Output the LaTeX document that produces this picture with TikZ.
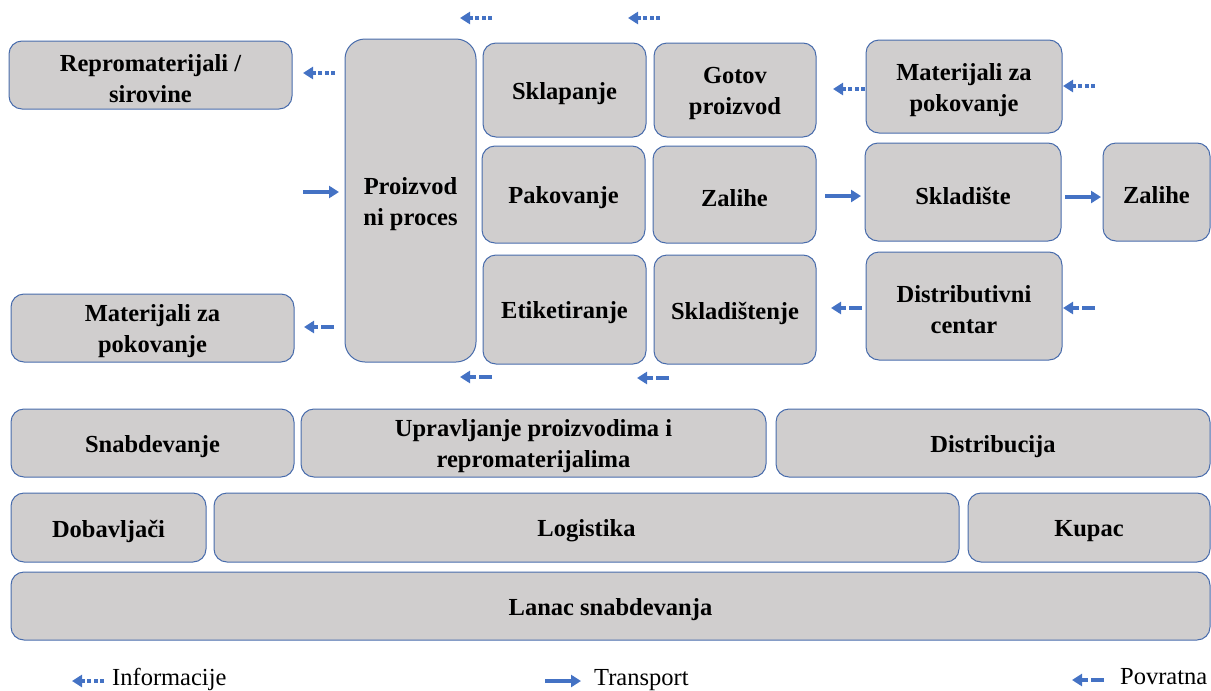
\documentclass[tikz,border=0pt]{standalone}
\usepackage{fontspec}
\setmainfont{Liberation Serif}
\usetikzlibrary{arrows.meta}
\definecolor{boxfill}{RGB}{208,206,206}
\definecolor{boxline}{RGB}{72,108,172}
\definecolor{arrblue}{RGB}{68,114,196}
\tikzset{
  box/.style={draw=boxline, line width=1pt, fill=boxfill, rounded corners=13pt,
    inner sep=0pt},
  boxtext/.style={align=center, inner sep=0pt,
    font=\fontsize{24.5}{31}\selectfont\bfseries},
  arrbase/.style={draw=arrblue, line width=3.6pt,
    -{Triangle[length=10pt,width=12pt]}},
  infoarr/.style={arrbase, dash pattern=on 4pt off 2.5pt},
  transarr/.style={arrbase},
  retarr/.style={arrbase, dash pattern=on 13pt off 3.5pt on 20pt off 3pt},
  legtext/.style={anchor=base west, inner sep=0pt, font=\fontsize{24.5}{29}\selectfont}
}
\newcommand{\bx}[7]{% name, cx, cy, w, h, text, extra
  \node[box, minimum width=#4pt, minimum height=#5pt, #7] (#1) at (#2,#3) {};
  \node[boxtext] (#1-t) at ([yshift=-3.5pt]#1.center) {#6};}
\begin{document}
\begin{tikzpicture}[x=1pt,y=-1pt]
\useasboundingbox (0,0) rectangle (1211,691);
% boxes
\bx{repro}{150.5}{75}{283}{68}{Repromaterijali /\\sirovine}{}
\bx{matl}{152.5}{328}{283}{68}{Materijali za\\pokovanje}{}
\bx{proc}{410.5}{200.5}{131}{323}{Proizvod\\ni proces}{rounded corners=20pt}
\bx{sklap}{564.5}{90}{163}{94}{Sklapanje}{}
\bx{gotov}{735}{90}{162}{94}{Gotov\\proizvod}{}
\bx{pakov}{563.5}{194.5}{163}{97}{Pakovanje}{}
\bx{zalm}{734.5}{194.5}{163}{97}{Zalihe}{}
\bx{etik}{564.5}{309.5}{163}{109}{Etiketiranje}{}
\bx{sklst}{735}{309.5}{162}{109}{Skladištenje}{}
\bx{matr}{964}{86.5}{196}{93}{Materijali za\\pokovanje}{}
\bx{sklad}{963}{192}{196}{98}{Skladište}{}
\bx{zalr}{1156.5}{192}{107}{98}{Zalihe}{}
\bx{dist}{964}{306}{196}{108}{Distributivni\\centar}{}
\bx{snab}{152.5}{443}{283}{68}{Snabdevanje}{}
\bx{uprav}{533.5}{443}{465}{68}{Upravljanje proizvodima i\\repromaterijalima}{}
\bx{distrib}{993}{443}{434}{68}{Distribucija}{}
\bx{dobav}{108.5}{527.5}{195}{69}{Dobavljači}{}
\bx{logist}{586.5}{527.5}{745}{69}{Logistika}{}
\bx{kupac}{1089}{527.5}{242}{69}{Kupac}{}
\bx{lanac}{610.5}{606}{1199}{68}{Lanac snabdevanja}{}
% arrow end points
\coordinate (i1s) at (492,18);  \coordinate (i1e) at (460,18);
\coordinate (i2s) at (660,18);  \coordinate (i2e) at (628,18);
\coordinate (i3s) at (335,73);  \coordinate (i3e) at (303,73);
\coordinate (i4s) at (865,89);  \coordinate (i4e) at (833,89);
\coordinate (i5s) at (1095,86); \coordinate (i5e) at (1063,86);
\coordinate (t1s) at (303,192); \coordinate (t1e) at (339,192);
\coordinate (t2s) at (825,196); \coordinate (t2e) at (861,196);
\coordinate (t3s) at (1065,197);\coordinate (t3e) at (1101,197);
\coordinate (r1s) at (334,327); \coordinate (r1e) at (304,327);
\coordinate (r2s) at (492,377); \coordinate (r2e) at (460,377);
\coordinate (r3s) at (669,378); \coordinate (r3e) at (637,378);
\coordinate (r4s) at (862,308); \coordinate (r4e) at (831,308);
\coordinate (r5s) at (1095,308);\coordinate (r5e) at (1063,308);
\draw[infoarr] (i1s) -- (i1e);
\draw[infoarr] (i2s) -- (i2e);
\draw[infoarr] (i3s) -- (i3e);
\draw[infoarr] (i4s) -- (i4e);
\draw[infoarr] (i5s) -- (i5e);
\draw[transarr] (t1s) -- (t1e);
\draw[transarr] (t2s) -- (t2e);
\draw[transarr] (t3s) -- (t3e);
\draw[retarr] (r1s) -- (r1e);
\draw[retarr] (r2s) -- (r2e);
\draw[retarr] (r3s) -- (r3e);
\draw[retarr] (r4s) -- (r4e);
\draw[retarr] (r5s) -- (r5e);
% legend
\coordinate (l1s) at (104,681); \coordinate (l1e) at (72,681);
\coordinate (l2s) at (545,681); \coordinate (l2e) at (581,681);
\coordinate (l3s) at (1104,680);\coordinate (l3e) at (1072,680);
\draw[infoarr] (l1s) -- (l1e);
\draw[transarr] (l2s) -- (l2e);
\draw[retarr] (l3s) -- (l3e);
\node[legtext] (leg1) at (112,685.5) {Informacije};
\node[legtext] (leg2) at (594,685.5) {Transport};
\node[legtext] (leg3) at (1120,684) {Povratna};
\end{tikzpicture}
\end{document}
